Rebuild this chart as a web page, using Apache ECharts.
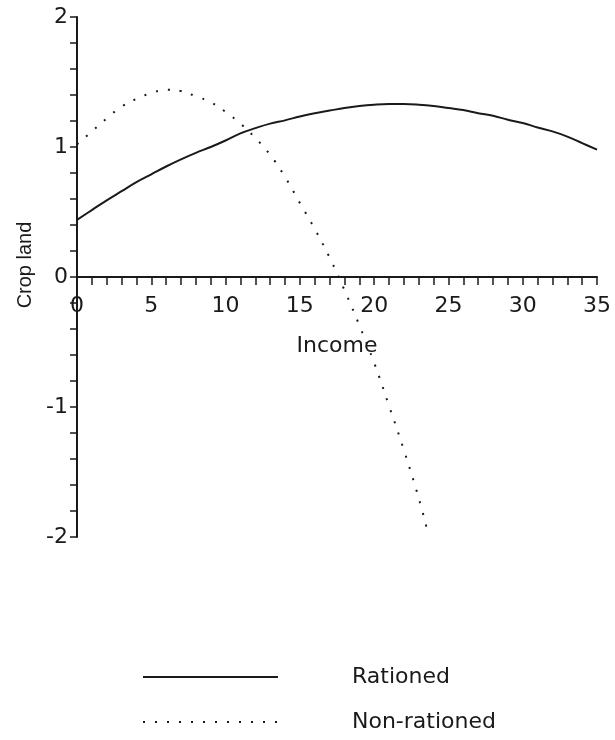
<!DOCTYPE html>
<html>
<head>
<meta charset="utf-8">
<script src="https://cdn.jsdelivr.net/npm/echarts@6/dist/echarts.min.js"></script>
<style>
  html, body { margin: 0; padding: 0; background: #fff; }
  #chart { width: 615px; height: 740px; }
</style>
</head>
<body>
<div id="chart"></div>
<script>
// Crop land against income, for rationed and non-rationed households
const incomeRationed = [0, 1, 2, 3, 4, 5, 6, 7, 8, 9, 10, 11, 12, 13, 14, 15, 16, 17,
  18, 19, 20, 21, 22, 23, 24, 25, 26, 27, 28, 29, 30, 31, 32, 33, 34, 35];
const cropRationed = [0.44, 0.515, 0.59, 0.66, 0.73, 0.79, 0.85, 0.905, 0.955, 1.0,
  1.05, 1.105, 1.145, 1.18, 1.205, 1.235, 1.26, 1.28, 1.30, 1.315, 1.325, 1.33,
  1.33, 1.325, 1.315, 1.30, 1.285, 1.26, 1.24, 1.21, 1.185, 1.15, 1.12, 1.08, 1.03, 0.98];

const incomeNonRationed = [0, 1, 2, 3, 4, 5, 6, 7, 8, 9, 10, 11, 12, 13, 14, 15, 16,
  17, 18, 19, 20, 21, 22, 23, 23.6];
const cropNonRationed = [1.02, 1.12, 1.22, 1.31, 1.37, 1.415, 1.44, 1.43, 1.39, 1.345,
  1.27, 1.18, 1.07, 0.94, 0.77, 0.57, 0.37, 0.15, -0.10, -0.37, -0.66, -0.99, -1.33,
  -1.70, -1.96];

const seriesNames = ['Rationed', 'Non-rationed'];
const xTickLabels = ['0', '5', '10', '15', '20', '25', '30', '35'];
const yTickLabels = ['-2', '-1', '0', '1', '2'];

const FONT = 'DejaVu Sans';
const FS = 22;
const INK = '#1a1a1a';

// plot area, and the income axis drawn through crop land = 0 (middle of -2..2)
const GRID = { left: 77, right: 18, top: 17, bottom: 203 };
const plotHeight = 740 - GRID.top - GRID.bottom;
const zeroLineOffset = -plotHeight / 2;

const pairs = (xs, ys) => xs.map((x, i) => [x, ys[i]]);

const chart = echarts.init(document.getElementById('chart'), null, { renderer: 'canvas' });

chart.setOption({
  animation: false,
  backgroundColor: '#fff',
  grid: Object.assign({ containLabel: false }, GRID),
  xAxis: {
    type: 'value',
    position: 'bottom',
    offset: zeroLineOffset,
    min: 0, max: 35, interval: 5,
    name: 'Income',
    nameLocation: 'middle',
    nameGap: 58,
    nameTextStyle: { fontFamily: FONT, fontSize: FS, color: INK },
    axisLine: { onZero: false, lineStyle: { color: INK, width: 2 } },
    axisTick: { show: true, inside: false, length: 8, lineStyle: { color: INK, width: 1.5 } },
    minorTick: { show: true, splitNumber: 5, length: 8, lineStyle: { color: INK, width: 1.5 } },
    splitLine: { show: false },
    minorSplitLine: { show: false },
    axisLabel: {
      margin: 18,
      fontFamily: FONT, fontSize: FS, color: INK,
      formatter: v => xTickLabels[Math.round(v / 5)] ?? ''
    }
  },
  yAxis: {
    type: 'value',
    min: -2, max: 2, interval: 1,
    name: 'Crop land',
    nameLocation: 'middle',
    nameGap: 41,
    nameRotate: 90,
    nameTextStyle: { fontFamily: 'Liberation Sans', fontSize: 20, color: INK, padding: [0, 0, 0, 24] },
    axisLine: { show: true, onZero: false, lineStyle: { color: INK, width: 2 } },
    axisTick: { show: true, inside: false, length: 7, lineStyle: { color: INK, width: 1.5 } },
    minorTick: { show: true, splitNumber: 5, length: 7, lineStyle: { color: INK, width: 1.5 } },
    splitLine: { show: false },
    minorSplitLine: { show: false },
    axisLabel: {
      margin: 9,
      fontFamily: FONT, fontSize: FS, color: INK,
      padding: [8, 0, 0, 0],
      formatter: v => yTickLabels[Math.round(v) + 2] ?? ''
    }
  },
  legend: {
    orient: 'vertical',
    left: 137,
    top: 661,
    itemWidth: 135,
    itemHeight: 22,
    itemGap: 23,
    itemStyle: { opacity: 0 },
    textStyle: { fontFamily: FONT, fontSize: FS, color: INK, padding: [0, 0, 0, 69] },
    data: seriesNames
  },
  series: [
    {
      name: seriesNames[0],
      type: 'line',
      data: pairs(incomeRationed, cropRationed),
      smooth: 0.4,
      showSymbol: false,
      symbol: 'none',
      lineStyle: { color: INK, width: 2, type: 'solid' },
      itemStyle: { color: INK }
    },
    {
      name: seriesNames[1],
      type: 'line',
      data: pairs(incomeNonRationed, cropNonRationed),
      smooth: 0.4,
      showSymbol: false,
      symbol: 'none',
      lineStyle: { color: INK, width: 2, type: [2, 10] },
      itemStyle: { color: INK }
    }
  ]
});
</script>
</body>
</html>
